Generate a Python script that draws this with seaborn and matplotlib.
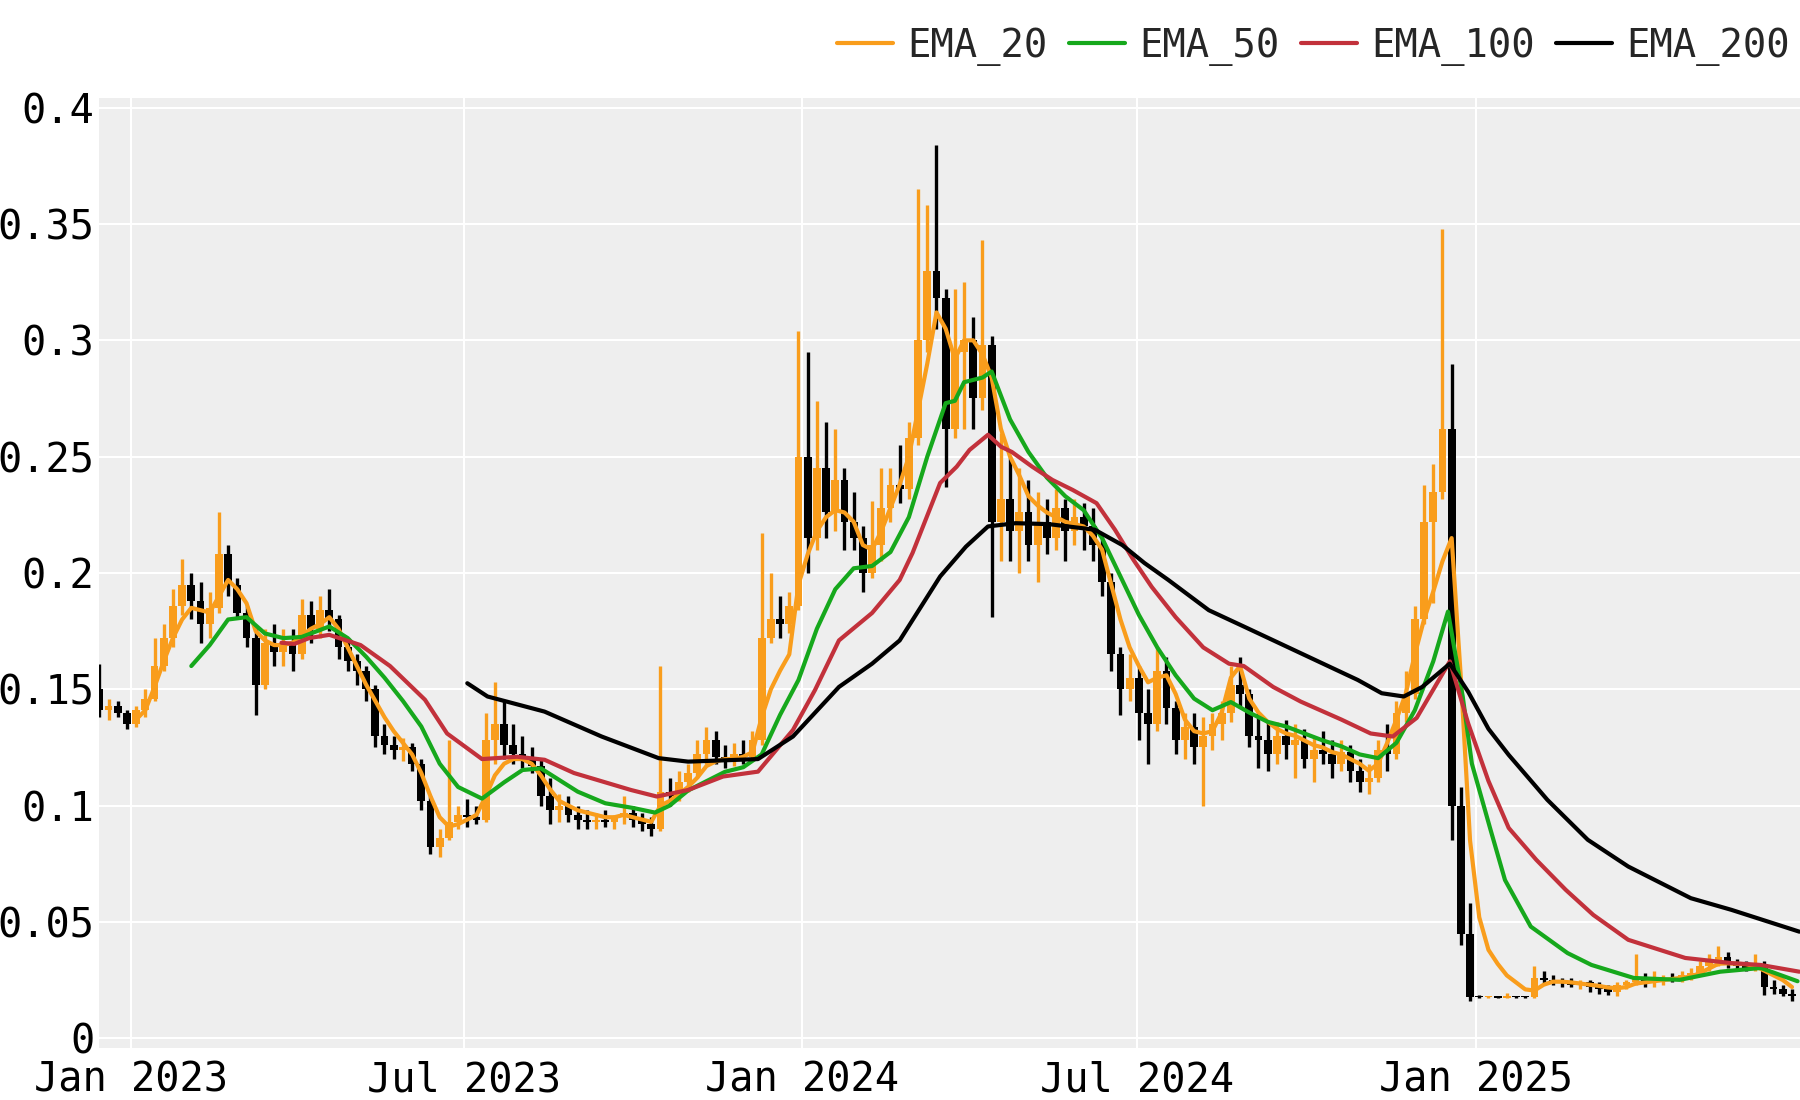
import numpy as np
import pandas as pd
import matplotlib
matplotlib.use("Agg")
import matplotlib.pyplot as plt
import matplotlib.dates as mdates
from matplotlib.ticker import FixedLocator, FuncFormatter
import seaborn as sns

# ---------------- data (5-day candles starting 2022-12-15) ----------------
candle_start = "2022-12-15"
candle_step = "5D"

opens = [0.150, 0.141, 0.143, 0.140, 0.135, 0.141, 0.146, 0.160, 0.172, 0.186,
         0.195, 0.188, 0.178, 0.185, 0.208, 0.195, 0.183, 0.172, 0.152, 0.170,
         0.166, 0.170, 0.165, 0.182, 0.176, 0.184, 0.180, 0.168, 0.162, 0.158,
         0.150, 0.130, 0.126, 0.124, 0.125, 0.118, 0.102, 0.082, 0.086, 0.093,
         0.096, 0.095, 0.094, 0.128, 0.135, 0.126, 0.122, 0.120, 0.117, 0.104,
         0.098, 0.100, 0.096, 0.094, 0.093, 0.094, 0.093, 0.095, 0.097, 0.094,
         0.092, 0.090, 0.106, 0.104, 0.110, 0.114, 0.122, 0.128, 0.121, 0.120,
         0.122, 0.121, 0.128, 0.172, 0.180, 0.178, 0.186, 0.250, 0.215, 0.245,
         0.226, 0.240, 0.222, 0.215, 0.200, 0.212, 0.228, 0.238, 0.236, 0.258,
         0.300, 0.330, 0.318, 0.262, 0.295, 0.300, 0.275, 0.298, 0.222, 0.232,
         0.218, 0.226, 0.212, 0.222, 0.215, 0.228, 0.218, 0.224, 0.220, 0.212,
         0.196, 0.165, 0.150, 0.155, 0.140, 0.135, 0.158, 0.142, 0.128, 0.134,
         0.125, 0.130, 0.135, 0.140, 0.152, 0.148, 0.130, 0.128, 0.122, 0.130,
         0.126, 0.128, 0.120, 0.124, 0.122, 0.118, 0.123, 0.115, 0.110, 0.112,
         0.124, 0.122, 0.140, 0.148, 0.180, 0.222, 0.235, 0.262, 0.100, 0.045,
         0.0178, 0.0176, 0.0178, 0.0175, 0.0180, 0.0177, 0.0176, 0.026, 0.025, 0.0245,
         0.0242, 0.023, 0.024, 0.022, 0.021, 0.020, 0.023, 0.024, 0.026, 0.024,
         0.025, 0.026, 0.025, 0.027, 0.028, 0.031, 0.033, 0.035, 0.032, 0.031,
         0.030, 0.032, 0.022, 0.021, 0.019]

highs = [0.161, 0.146, 0.145, 0.141, 0.143, 0.150, 0.172, 0.178, 0.193, 0.206,
         0.200, 0.196, 0.192, 0.226, 0.212, 0.198, 0.186, 0.176, 0.176, 0.178,
         0.176, 0.176, 0.189, 0.188, 0.190, 0.193, 0.182, 0.172, 0.165, 0.160,
         0.152, 0.135, 0.130, 0.129, 0.127, 0.120, 0.104, 0.090, 0.128, 0.100,
         0.103, 0.100, 0.140, 0.153, 0.145, 0.135, 0.130, 0.125, 0.120, 0.112,
         0.105, 0.104, 0.100, 0.098, 0.097, 0.098, 0.096, 0.104, 0.100, 0.097,
         0.095, 0.160, 0.112, 0.115, 0.118, 0.128, 0.134, 0.132, 0.126, 0.127,
         0.128, 0.132, 0.217, 0.200, 0.190, 0.192, 0.304, 0.295, 0.274, 0.265,
         0.262, 0.245, 0.235, 0.220, 0.231, 0.245, 0.245, 0.255, 0.265, 0.365,
         0.358, 0.384, 0.322, 0.322, 0.325, 0.310, 0.343, 0.302, 0.260, 0.250,
         0.245, 0.240, 0.235, 0.232, 0.236, 0.232, 0.232, 0.230, 0.228, 0.215,
         0.200, 0.168, 0.165, 0.160, 0.150, 0.168, 0.164, 0.145, 0.140, 0.140,
         0.138, 0.140, 0.145, 0.160, 0.164, 0.150, 0.140, 0.136, 0.136, 0.137,
         0.135, 0.133, 0.130, 0.132, 0.128, 0.128, 0.126, 0.120, 0.118, 0.128,
         0.135, 0.145, 0.158, 0.186, 0.238, 0.247, 0.348, 0.290, 0.108, 0.058,
         0.0185, 0.0180, 0.0182, 0.0195, 0.0182, 0.0180, 0.031, 0.029, 0.027, 0.026,
         0.026, 0.025, 0.025, 0.024, 0.023, 0.024, 0.025, 0.036, 0.028, 0.029,
         0.027, 0.028, 0.029, 0.030, 0.033, 0.036, 0.0395, 0.037, 0.034, 0.033,
         0.036, 0.033, 0.025, 0.023, 0.021]

lows = [0.138, 0.137, 0.138, 0.133, 0.134, 0.138, 0.145, 0.158, 0.168, 0.182,
        0.180, 0.170, 0.172, 0.183, 0.190, 0.180, 0.168, 0.139, 0.150, 0.160,
        0.160, 0.158, 0.163, 0.170, 0.172, 0.175, 0.163, 0.158, 0.152, 0.145,
        0.125, 0.122, 0.120, 0.119, 0.115, 0.098, 0.079, 0.078, 0.085, 0.090,
        0.091, 0.092, 0.093, 0.118, 0.120, 0.118, 0.116, 0.114, 0.100, 0.092,
        0.093, 0.093, 0.090, 0.090, 0.090, 0.091, 0.090, 0.092, 0.091, 0.089,
        0.087, 0.089, 0.100, 0.102, 0.106, 0.112, 0.118, 0.118, 0.116, 0.117,
        0.118, 0.120, 0.126, 0.170, 0.172, 0.174, 0.184, 0.200, 0.210, 0.215,
        0.218, 0.210, 0.210, 0.192, 0.198, 0.205, 0.222, 0.230, 0.232, 0.255,
        0.295, 0.305, 0.237, 0.258, 0.262, 0.262, 0.270, 0.181, 0.205, 0.205,
        0.200, 0.205, 0.196, 0.208, 0.210, 0.205, 0.212, 0.210, 0.205, 0.190,
        0.158, 0.139, 0.145, 0.128, 0.118, 0.132, 0.135, 0.122, 0.120, 0.118,
        0.100, 0.124, 0.128, 0.136, 0.142, 0.125, 0.116, 0.115, 0.118, 0.120,
        0.112, 0.116, 0.110, 0.118, 0.112, 0.115, 0.110, 0.106, 0.105, 0.110,
        0.115, 0.120, 0.136, 0.146, 0.178, 0.187, 0.232, 0.085, 0.040, 0.016,
        0.0172, 0.0173, 0.0174, 0.0174, 0.0175, 0.0174, 0.0175, 0.023, 0.023, 0.022,
        0.022, 0.021, 0.020, 0.019, 0.0185, 0.018, 0.021, 0.023, 0.022, 0.022,
        0.023, 0.024, 0.024, 0.025, 0.027, 0.029, 0.031, 0.030, 0.029, 0.029,
        0.029, 0.0185, 0.019, 0.018, 0.016]

closes = [0.141, 0.143, 0.140, 0.135, 0.141, 0.146, 0.160, 0.172, 0.186, 0.195,
          0.188, 0.178, 0.185, 0.208, 0.195, 0.183, 0.172, 0.152, 0.170, 0.166,
          0.170, 0.165, 0.182, 0.176, 0.184, 0.180, 0.168, 0.162, 0.158, 0.150,
          0.130, 0.126, 0.124, 0.125, 0.118, 0.102, 0.082, 0.086, 0.093, 0.096,
          0.095, 0.094, 0.128, 0.135, 0.126, 0.122, 0.120, 0.117, 0.104, 0.098,
          0.100, 0.096, 0.094, 0.093, 0.094, 0.093, 0.095, 0.097, 0.094, 0.092,
          0.090, 0.106, 0.104, 0.110, 0.114, 0.122, 0.128, 0.121, 0.120, 0.122,
          0.121, 0.128, 0.172, 0.180, 0.178, 0.186, 0.250, 0.215, 0.245, 0.226,
          0.240, 0.222, 0.215, 0.200, 0.212, 0.228, 0.238, 0.236, 0.258, 0.300,
          0.330, 0.318, 0.262, 0.295, 0.300, 0.275, 0.298, 0.222, 0.232, 0.218,
          0.226, 0.212, 0.222, 0.215, 0.228, 0.218, 0.224, 0.220, 0.212, 0.196,
          0.165, 0.150, 0.155, 0.140, 0.135, 0.158, 0.142, 0.128, 0.134, 0.125,
          0.130, 0.135, 0.140, 0.152, 0.148, 0.130, 0.128, 0.122, 0.130, 0.126,
          0.128, 0.120, 0.124, 0.122, 0.118, 0.123, 0.115, 0.110, 0.112, 0.124,
          0.122, 0.140, 0.148, 0.180, 0.222, 0.235, 0.262, 0.100, 0.045, 0.0178,
          0.0176, 0.0178, 0.0175, 0.0180, 0.0177, 0.0176, 0.026, 0.025, 0.0245, 0.0242,
          0.023, 0.024, 0.022, 0.021, 0.020, 0.023, 0.024, 0.026, 0.024, 0.025,
          0.026, 0.025, 0.027, 0.028, 0.031, 0.033, 0.035, 0.032, 0.031, 0.030,
          0.032, 0.022, 0.021, 0.019, 0.018]

nan = float("nan")
ema20 = [nan, nan, nan, nan, 0.137, 0.141, 0.151, 0.162, 0.172, 0.180,
         0.185, 0.184, 0.183, 0.190, 0.197, 0.193, 0.187, 0.175, 0.171, 0.169,
         0.169, 0.170, 0.173, 0.176, 0.178, 0.181, 0.176, 0.168, 0.160, 0.152,
         0.145, 0.138, 0.132, 0.127, 0.122, 0.114, 0.104, 0.095, 0.091, 0.092,
         0.094, 0.096, 0.104, 0.113, 0.118, 0.120, 0.120, 0.118, 0.113, 0.107,
         0.102, 0.100, 0.098, 0.097, 0.096, 0.095, 0.095, 0.096, 0.095, 0.094,
         0.093, 0.100, 0.102, 0.105, 0.108, 0.112, 0.117, 0.119, 0.120, 0.120,
         0.121, 0.123, 0.138, 0.150, 0.158, 0.165, 0.195, 0.208, 0.218, 0.224,
         0.227, 0.226, 0.222, 0.212, 0.210, 0.218, 0.228, 0.238, 0.250, 0.270,
         0.290, 0.312, 0.305, 0.292, 0.300, 0.300, 0.294, 0.284, 0.262, 0.250,
         0.242, 0.233, 0.229, 0.226, 0.224, 0.222, 0.221, 0.220, 0.216, 0.210,
         0.195, 0.180, 0.168, 0.160, 0.153, 0.155, 0.156, 0.148, 0.137, 0.132,
         0.131, 0.132, 0.140, 0.155, 0.160, 0.146, 0.140, 0.136, 0.133, 0.131,
         0.130, 0.128, 0.126, 0.125, 0.123, 0.122, 0.120, 0.118, 0.115, 0.118,
         0.127, 0.137, 0.148, 0.165, 0.180, 0.192, 0.205, 0.215, 0.155, 0.085,
         0.052, 0.038, 0.032, 0.027, 0.024, 0.021, 0.0205, 0.023, 0.0243, 0.0243,
         0.024, 0.0235, 0.023, 0.0225, 0.0218, 0.0215, 0.022, 0.0235, 0.024, 0.0245,
         0.025, 0.0255, 0.026, 0.0265, 0.028, 0.030, 0.032, 0.0322, 0.032, 0.0318,
         0.031, 0.029, 0.027, 0.025, 0.022]

ema50_dates = ["2023-02-03", "2023-02-13", "2023-02-23", "2023-03-05", "2023-03-15",
               "2023-03-25", "2023-04-04", "2023-04-19", "2023-04-29", "2023-05-09",
               "2023-05-19", "2023-05-29", "2023-06-08", "2023-06-18", "2023-06-28",
               "2023-07-11", "2023-07-23", "2023-08-02", "2023-08-12", "2023-08-22",
               "2023-09-01", "2023-09-16", "2023-10-01", "2023-10-13", "2023-10-21",
               "2023-10-31", "2023-11-10", "2023-11-20", "2023-11-30", "2023-12-10",
               "2023-12-20", "2023-12-30", "2024-01-09", "2024-01-19", "2024-01-29",
               "2024-02-08", "2024-02-18", "2024-02-28", "2024-03-09", "2024-03-19",
               "2024-03-24", "2024-03-29", "2024-04-08", "2024-04-13", "2024-04-23",
               "2024-05-03", "2024-05-13", "2024-05-23", "2024-06-02", "2024-06-12",
               "2024-06-22", "2024-07-02", "2024-07-12", "2024-07-22", "2024-08-01",
               "2024-08-11", "2024-08-21", "2024-08-31", "2024-09-10", "2024-09-20",
               "2024-09-30", "2024-10-10", "2024-10-20", "2024-10-30", "2024-11-09",
               "2024-11-19", "2024-11-29", "2024-12-09", "2024-12-17", "2024-12-25",
               "2024-12-30", "2025-01-09", "2025-01-17", "2025-01-31", "2025-02-20",
               "2025-03-05", "2025-03-28", "2025-04-22", "2025-05-14", "2025-06-05",
               "2025-06-25"]
ema50 = [0.160, 0.169, 0.180, 0.181, 0.174,
         0.172, 0.1725, 0.177, 0.172, 0.164,
         0.155, 0.145, 0.134, 0.118, 0.108,
         0.103, 0.110, 0.1153, 0.116, 0.111,
         0.106, 0.101, 0.099, 0.097, 0.100,
         0.1065, 0.1105, 0.1145, 0.1165, 0.122,
         0.139, 0.154, 0.176, 0.193, 0.202,
         0.203, 0.209, 0.224, 0.250, 0.273,
         0.274, 0.282, 0.284, 0.2866, 0.266,
         0.252, 0.241, 0.233, 0.227, 0.215,
         0.1985, 0.182, 0.168, 0.156, 0.146,
         0.141, 0.1445, 0.140, 0.136, 0.134,
         0.131, 0.128, 0.1255, 0.122, 0.1204,
         0.127, 0.141, 0.162, 0.1834, 0.147,
         0.118, 0.090, 0.068, 0.048, 0.0366,
         0.0315, 0.0259, 0.0251, 0.0286, 0.0302,
         0.0245]

ema100_dates = ["2023-03-24", "2023-03-31", "2023-04-08", "2023-04-19", "2023-05-06",
                "2023-05-22", "2023-06-10", "2023-06-22", "2023-07-11", "2023-07-30",
                "2023-08-14", "2023-08-30", "2023-09-30", "2023-10-14", "2023-10-31",
                "2023-11-19", "2023-12-08", "2023-12-27", "2024-01-08", "2024-01-21",
                "2024-02-08", "2024-02-23", "2024-03-01", "2024-03-16", "2024-03-25",
                "2024-04-01", "2024-04-11", "2024-04-18", "2024-04-24", "2024-05-05",
                "2024-05-16", "2024-05-27", "2024-06-09", "2024-06-19", "2024-06-29",
                "2024-07-09", "2024-07-22", "2024-08-06", "2024-08-20", "2024-08-28",
                "2024-09-13", "2024-09-28", "2024-10-20", "2024-11-05", "2024-11-17",
                "2024-11-30", "2024-12-18", "2024-12-28", "2025-01-08", "2025-01-19",
                "2025-02-03", "2025-02-19", "2025-03-06", "2025-03-25", "2025-04-25",
                "2025-05-20", "2025-06-05", "2025-06-26"]
ema100 = [0.170, 0.1695, 0.172, 0.1734, 0.169,
          0.160, 0.1455, 0.131, 0.120, 0.121,
          0.1197, 0.114, 0.1067, 0.1039, 0.1067,
          0.1125, 0.1146, 0.1325, 0.1497, 0.171,
          0.1828, 0.197, 0.2086, 0.2387, 0.2457,
          0.2529, 0.2594, 0.2543, 0.252, 0.2457,
          0.240, 0.2357, 0.230, 0.2186, 0.2057,
          0.194, 0.181, 0.168, 0.161, 0.160,
          0.151, 0.1447, 0.137, 0.131, 0.1297,
          0.1377, 0.162, 0.1353, 0.1106, 0.0904,
          0.0767, 0.0638, 0.053, 0.0423, 0.0345,
          0.0323, 0.0315, 0.0286]

ema200_dates = ["2023-07-03", "2023-07-14", "2023-08-14", "2023-09-14", "2023-10-15",
                "2023-10-31", "2023-12-08", "2023-12-27", "2024-01-21", "2024-02-08",
                "2024-02-23", "2024-03-16", "2024-03-30", "2024-04-11", "2024-04-26",
                "2024-05-14", "2024-06-08", "2024-06-23", "2024-07-05", "2024-07-18",
                "2024-08-09", "2024-08-28", "2024-09-28", "2024-10-29", "2024-11-11",
                "2024-11-23", "2024-12-03", "2024-12-18", "2024-12-28", "2025-01-08",
                "2025-01-19", "2025-01-30", "2025-02-09", "2025-03-03", "2025-03-25",
                "2025-04-28", "2025-05-20", "2025-06-26"]
ema200 = [0.1526, 0.1469, 0.1404, 0.1297, 0.1204,
          0.1189, 0.120, 0.1297, 0.151, 0.161,
          0.171, 0.1985, 0.2113, 0.220, 0.2214,
          0.221, 0.2186, 0.212, 0.2043, 0.197,
          0.184, 0.177, 0.1655, 0.154, 0.1483,
          0.1469, 0.151, 0.161, 0.1489, 0.133,
          0.1218, 0.1117, 0.1025, 0.0853, 0.0738,
          0.0602, 0.0552, 0.0458]

y_ticks = [0, 0.05, 0.1, 0.15, 0.2, 0.25, 0.3, 0.35, 0.4]
series_names = ["EMA_20", "EMA_50", "EMA_100", "EMA_200"]

# ---------------- style ----------------
ORANGE = "#f99d1c"
GREEN = "#16a81c"
RED = "#c2313b"
BLACK = "#000000"
FS = 29
LEG_FS = 28

sns.set_style("whitegrid", {"axes.facecolor": "#eeeeee", "grid.color": "white",
                            "axes.edgecolor": "none"})
plt.rcParams["font.family"] = ["DejaVu Sans Mono", "DejaVu Sans"]

fig = plt.figure(figsize=(18, 11), dpi=100)
ax = fig.add_axes([98.7 / 1800, 1 - 1048 / 1100, 1 - 98.7 / 1800, (1048 - 97.7) / 1100])
ax.set_facecolor("#eeeeee")

dates = pd.date_range(candle_start, periods=len(closes), freq=candle_step)
o = np.array(opens); h = np.array(highs); l = np.array(lows); c = np.array(closes)
up = c >= o
cols = np.where(up, ORANGE, BLACK)

# candles
ax.vlines(dates, l, h, colors=cols, linewidth=2.4, zorder=2)
body_bottom = np.minimum(o, c)
body_height = np.maximum(np.abs(c - o), 0.0006)
ax.bar(dates, body_height, bottom=body_bottom, width=4.2, color=cols,
       linewidth=0, zorder=2)

# EMA lines
lw = 2.3
sns.lineplot(x=dates, y=ema20, ax=ax, color=ORANGE, linewidth=lw,
             label=series_names[0], zorder=3)
sns.lineplot(x=pd.to_datetime(ema50_dates), y=ema50, ax=ax, color=GREEN,
             linewidth=lw, label=series_names[1], zorder=3)
sns.lineplot(x=pd.to_datetime(ema100_dates), y=ema100, ax=ax, color=RED,
             linewidth=lw, label=series_names[2], zorder=3)
sns.lineplot(x=pd.to_datetime(ema200_dates), y=ema200, ax=ax, color=BLACK,
             linewidth=lw, label=series_names[3], zorder=3)

handles, labels = ax.get_legend_handles_labels()
ax.get_legend().remove()
for hd in handles:
    hd.set_linewidth(3.0)

# axes
ax.set_xlim(pd.Timestamp("2022-12-14 16:00"), pd.Timestamp("2025-06-26 08:00"))
ax.set_ylim(-0.0042, 0.4043)
ax.yaxis.set_major_locator(FixedLocator(y_ticks))
ax.yaxis.set_major_formatter(FuncFormatter(lambda v, p: "%g" % round(v, 4)))
ax.xaxis.set_major_locator(mdates.MonthLocator(bymonth=[1, 7]))
ax.xaxis.set_major_formatter(mdates.DateFormatter("%b %Y"))
ax.grid(True, color="white", linewidth=1.5)
ax.set_axisbelow(True)
ax.tick_params(axis="both", length=0, labelsize=FS, colors="black")
ax.tick_params(axis="y", pad=3)
ax.tick_params(axis="x", pad=9)
ax.set_xlabel("")
ax.set_ylabel("")
for s in ax.spines.values():
    s.set_visible(False)

fig.legend(handles, labels, loc="center right",
           bbox_to_anchor=(1790 / 1800, 1 - 46 / 1100), ncol=4, frameon=False,
           fontsize=LEG_FS, handlelength=1.45, handletextpad=0.36, columnspacing=0.55,
           borderaxespad=0, borderpad=0)

fig.savefig("out.png", dpi=100, facecolor="white")
